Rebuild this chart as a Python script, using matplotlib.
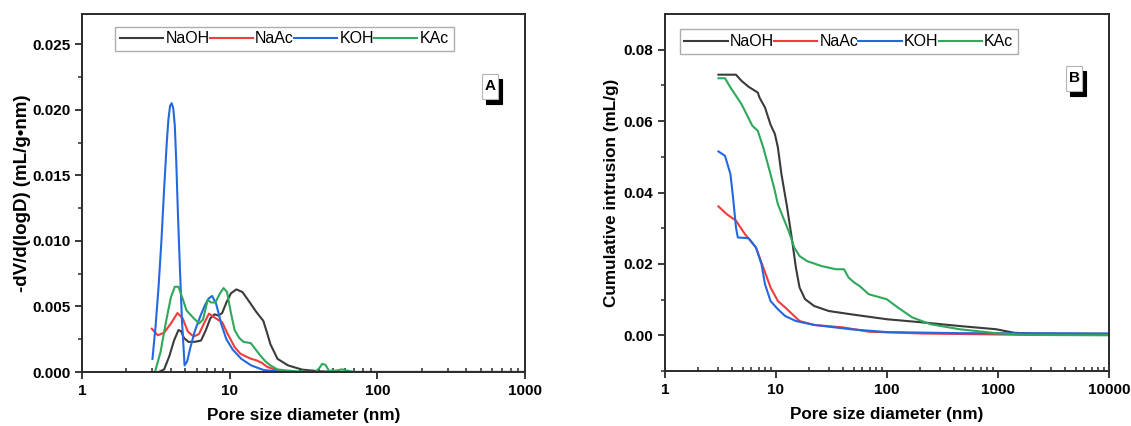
import matplotlib
matplotlib.use("Agg")
import matplotlib.pyplot as plt
from matplotlib.patches import Rectangle
from matplotlib.ticker import FixedLocator, FuncFormatter, LogLocator, NullFormatter

plt.rcParams['font.family'] = ['Liberation Sans', 'DejaVu Sans']

# ---------------- Panel A data: -dV/d(logD) ----------------
naoh_a_x = [3.0, 3.3, 3.6, 3.9, 4.2, 4.5, 4.7, 4.9, 5.25, 5.8, 6.4, 6.9, 7.4, 7.9, 8.4, 8.9, 9.5, 10.2, 11.1, 12.2, 13.5, 15.1, 16.9, 17.9, 18.9, 21.1, 24.9, 31, 41, 60, 100, 1000]
naoh_a_y = [0.0, 0.0, 0.0002, 0.0012, 0.0024, 0.0032, 0.0031, 0.0026, 0.0023, 0.0023, 0.0024, 0.0032, 0.0041, 0.0044, 0.0043, 0.0045, 0.0053, 0.0060, 0.0063, 0.0061, 0.0054, 0.0046, 0.0039, 0.0030, 0.0021, 0.0010, 0.0005, 0.00018, 0.00005, 0.0, 0.0, 0.0]

naac_a_x = [2.97, 3.26, 3.6, 4.0, 4.43, 4.8, 5.2, 5.7, 6.2, 6.7, 7.24, 7.8, 8.3, 8.9, 9.6, 10.8, 11.8, 12.8, 14.0, 15.1, 16.5, 17.9, 20.0, 22.3, 28, 40, 100, 1000]
naac_a_y = [0.0033, 0.0028, 0.0030, 0.0037, 0.0045, 0.0041, 0.0031, 0.0027, 0.0029, 0.0037, 0.00445, 0.0042, 0.0040, 0.0038, 0.0030, 0.0019, 0.0014, 0.0012, 0.0010, 0.0009, 0.0007, 0.0004, 0.0002, 0.0001, 0.0, 0.0, 0.0, 0.0]

koh_a_x = [3.0, 3.15, 3.3, 3.45, 3.6, 3.75, 3.85, 3.95, 4.05, 4.15, 4.25, 4.35, 4.45, 4.6, 4.75, 4.95, 5.15, 5.4, 5.8, 6.3, 6.8, 7.2, 7.6, 8.1, 8.8, 9.5, 10.5, 12.0, 14.0, 17.0, 22.0, 30, 100, 1000]
koh_a_y = [0.0010, 0.0035, 0.0065, 0.0100, 0.0140, 0.0175, 0.0193, 0.0203, 0.0205, 0.0201, 0.0188, 0.0160, 0.0125, 0.0080, 0.0040, 0.0005, 0.0008, 0.0018, 0.0031, 0.0042, 0.0051, 0.0056, 0.0058, 0.0052, 0.0036, 0.0025, 0.0017, 0.0010, 0.0005, 0.00015, 0.00003, 0.0, 0.0, 0.0]

kac_a_x = [3.12, 3.4, 3.7, 4.0, 4.25, 4.5, 4.8, 5.1, 5.6, 6.2, 6.6, 7.1, 7.5, 8.0, 8.6, 9.1, 9.6, 10.2, 10.8, 11.6, 12.4, 13.9, 14.8, 16.0, 17.5, 18.9, 21, 23.6, 30, 38, 40.5, 42.3, 44.5, 47, 52, 57.6, 63, 70, 100, 1000]
kac_a_y = [0.0, 0.0015, 0.0038, 0.0057, 0.0065, 0.0065, 0.0056, 0.0047, 0.0042, 0.0037, 0.0040, 0.0055, 0.0053, 0.0053, 0.0060, 0.0064, 0.0061, 0.0045, 0.0032, 0.0026, 0.0023, 0.0022, 0.0018, 0.0013, 0.0008, 0.0005, 0.0002, 0.00013, 0.00003, 0.0, 0.0003, 0.00062, 0.00055, 0.0001, 0.0001, 0.0002, 0.0001, 0.0, 0.0, 0.0]

# ---------------- Panel B data: cumulative intrusion ----------------
naoh_b_x = [3.03, 3.6, 4.36, 4.88, 5.67, 6.85, 7.1, 7.96, 8.93, 9.77, 10.4, 11.2, 12.6, 14.0, 15.1, 16.3, 18.3, 22.1, 29.9, 47, 99.5, 211, 450, 960, 1400, 2040, 10000]
naoh_b_y = [0.073, 0.073, 0.073, 0.0713, 0.0696, 0.068, 0.0666, 0.0638, 0.059, 0.0564, 0.0526, 0.0451, 0.0358, 0.0264, 0.019, 0.0134, 0.0101, 0.0082, 0.0068, 0.0059, 0.0045, 0.0036, 0.0026, 0.0017, 0.0007, 0.0005, 0.0004]

naac_b_x = [3.03, 3.61, 4.36, 5.26, 6.6, 7.68, 8.93, 10.4, 12.1, 14.6, 16.3, 22.1, 40.5, 68.5, 211, 2040, 10000]
naac_b_y = [0.0361, 0.0339, 0.0321, 0.0283, 0.0246, 0.019, 0.0134, 0.0096, 0.0078, 0.0054, 0.004, 0.0029, 0.0022, 0.001, 0.0005, 0.0001, 0.0001]

koh_b_x = [3.03, 3.47, 3.89, 4.13, 4.36, 4.53, 5.67, 6.6, 7.4, 7.96, 8.93, 10.4, 12.1, 15.1, 22.1, 47, 99.5, 450, 10000]
koh_b_y = [0.0515, 0.0503, 0.0451, 0.0377, 0.0302, 0.0274, 0.0272, 0.0246, 0.0199, 0.0143, 0.0096, 0.0073, 0.0054, 0.004, 0.0029, 0.0017, 0.0009, 0.0006, 0.0005]

kac_b_x = [3.03, 3.47, 3.89, 4.88, 6.12, 6.85, 7.68, 8.6, 9.6, 10.4, 11.6, 13.0, 14.6, 16.3, 19.0, 25.7, 34.7, 41, 45, 50.6, 56.7, 68.5, 99.5, 125, 169, 247, 450, 960, 1770, 10000]
kac_b_y = [0.072, 0.072, 0.0694, 0.0648, 0.0587, 0.0573, 0.0526, 0.047, 0.0414, 0.0367, 0.033, 0.0292, 0.0246, 0.0222, 0.0208, 0.0194, 0.0185, 0.0185, 0.0162, 0.0148, 0.0138, 0.0115, 0.0101, 0.0078, 0.005, 0.0031, 0.0017, 0.0006, 0.0001, 0.0]

series_names = ["NaOH", "NaAc", "KOH", "KAc"]
colors = ["#3b3b3b", "#f03c3c", "#2468e0", "#2ea85a"]

xticks_a = [1, 10, 100, 1000]
yticks_a = [0.000, 0.005, 0.010, 0.015, 0.020, 0.025]
xticks_b = [1, 10, 100, 1000, 10000]
yticks_b = [0.00, 0.02, 0.04, 0.06, 0.08]

W, H = 1131, 426
fig = plt.figure(figsize=(W / 100, H / 100), dpi=100)
axA = fig.add_axes([82 / W, 1 - 372 / H, (525 - 82) / W, (372 - 14) / H])
axB = fig.add_axes([665 / W, 1 - 371 / H, (1109 - 665) / W, (371 - 14) / H])

data_a = [(naoh_a_x, naoh_a_y), (naac_a_x, naac_a_y), (koh_a_x, koh_a_y), (kac_a_x, kac_a_y)]
data_b = [(naoh_b_x, naoh_b_y), (naac_b_x, naac_b_y), (koh_b_x, koh_b_y), (kac_b_x, kac_b_y)]

spine_col = "#2a2a2a"


def style(ax, xticks, yticks, xlim, ylim, yfmt, yminor):
    ax.set_xscale("log")
    ax.set_xlim(*xlim)
    ax.set_ylim(*ylim)
    ax.xaxis.set_major_locator(FixedLocator(xticks))
    ax.xaxis.set_major_formatter(FuncFormatter(lambda v, p: f"{v:g}"))
    ax.xaxis.set_minor_locator(LogLocator(base=10, subs=range(2, 10)))
    ax.xaxis.set_minor_formatter(NullFormatter())
    ax.yaxis.set_major_locator(FixedLocator(yticks))
    ax.yaxis.set_major_formatter(FuncFormatter(lambda v, p: yfmt.format(v)))
    ax.yaxis.set_minor_locator(FixedLocator(yminor))
    for s in ax.spines.values():
        s.set_linewidth(1.4)
        s.set_color(spine_col)
    ax.tick_params(axis="both", which="major", direction="out", length=5, width=1.3,
                   labelsize=11, color=spine_col, top=False, right=False)
    ax.tick_params(axis="y", which="minor", direction="out", length=3, width=1.1, color=spine_col)
    ax.tick_params(axis="x", which="minor", direction="in", length=3, width=1.1, color=spine_col)
    for lab in ax.get_xticklabels() + ax.get_yticklabels():
        lab.set_fontweight("bold")
    ax.set_xlabel("Pore size diameter (nm)", fontsize=12.3, fontweight="bold", labelpad=7)


def panel_label(ax, txt, x0, y0, x1, y1):
    # box given in figure pixels (left, top, right, bottom)
    inv = ax.transAxes.inverted()
    def to_ax(px, py):
        return inv.transform(fig.transFigure.transform((px / W, 1 - py / H)))
    (ax0, ay1) = to_ax(x0, y0)
    (ax1, ay0) = to_ax(x1, y1)
    (sx, sy) = to_ax(x0 + 4, y0 + 5)
    dx = sx - ax0
    dy = sy - ay1
    ax.add_patch(Rectangle((ax0 + dx, ay0 + dy), ax1 - ax0, ay1 - ay0, transform=ax.transAxes,
                           fc="black", ec="black", lw=0.8, zorder=5, clip_on=False))
    ax.add_patch(Rectangle((ax0, ay0), ax1 - ax0, ay1 - ay0, transform=ax.transAxes,
                           fc="white", ec="#b5b5b5", lw=0.8, zorder=6, clip_on=False))
    ax.text((ax0 + ax1) / 2, (ay0 + ay1) / 2, txt, transform=ax.transAxes, fontsize=11,
            fontweight="bold", ha="center", va="center", color="black", zorder=7)


for (xs, ys), name, c in zip(data_a, series_names, colors):
    axA.plot(xs, ys, color=c, lw=1.5, label=name)
style(axA, xticks_a, yticks_a, (1, 1000), (0, 0.0273), "{:.3f}",
      [0.0025, 0.0075, 0.0125, 0.0175, 0.0225])
axA.set_ylabel("-dV/d(logD) (mL/g\u2022nm)", fontsize=13.5, fontweight="bold", labelpad=1)
legA = axA.legend(loc="upper left", bbox_to_anchor=(0.075, 0.965), ncol=4, fontsize=11.5,
                  handlelength=2.7, handletextpad=0.15, columnspacing=0.0, frameon=True,
                  fancybox=False, borderpad=0.3, borderaxespad=0.0)
legA.get_frame().set_edgecolor("#999999")
legA.get_frame().set_linewidth(1.0)
panel_label(axA, "A", 482, 74, 498, 99)

for (xs, ys), name, c in zip(data_b, series_names, colors):
    axB.plot(xs, ys, color=c, lw=1.5, label=name)
style(axB, xticks_b, yticks_b, (1, 10000), (-0.01, 0.09), "{:.2f}",
      [-0.01, 0.01, 0.03, 0.05, 0.07])
axB.set_ylabel("Cumulative intrusion (mL/g)", fontsize=12.3, fontweight="bold", labelpad=3)
legB = axB.legend(loc="upper left", bbox_to_anchor=(0.033, 0.957), ncol=4, fontsize=11.5,
                  handlelength=2.7, handletextpad=0.15, columnspacing=0.0, frameon=True,
                  fancybox=False, borderpad=0.3, borderaxespad=0.0)
legB.get_frame().set_edgecolor("#999999")
legB.get_frame().set_linewidth(1.0)
panel_label(axB, "B", 1066, 66, 1082, 91)

fig.savefig("out.png", dpi=100)
